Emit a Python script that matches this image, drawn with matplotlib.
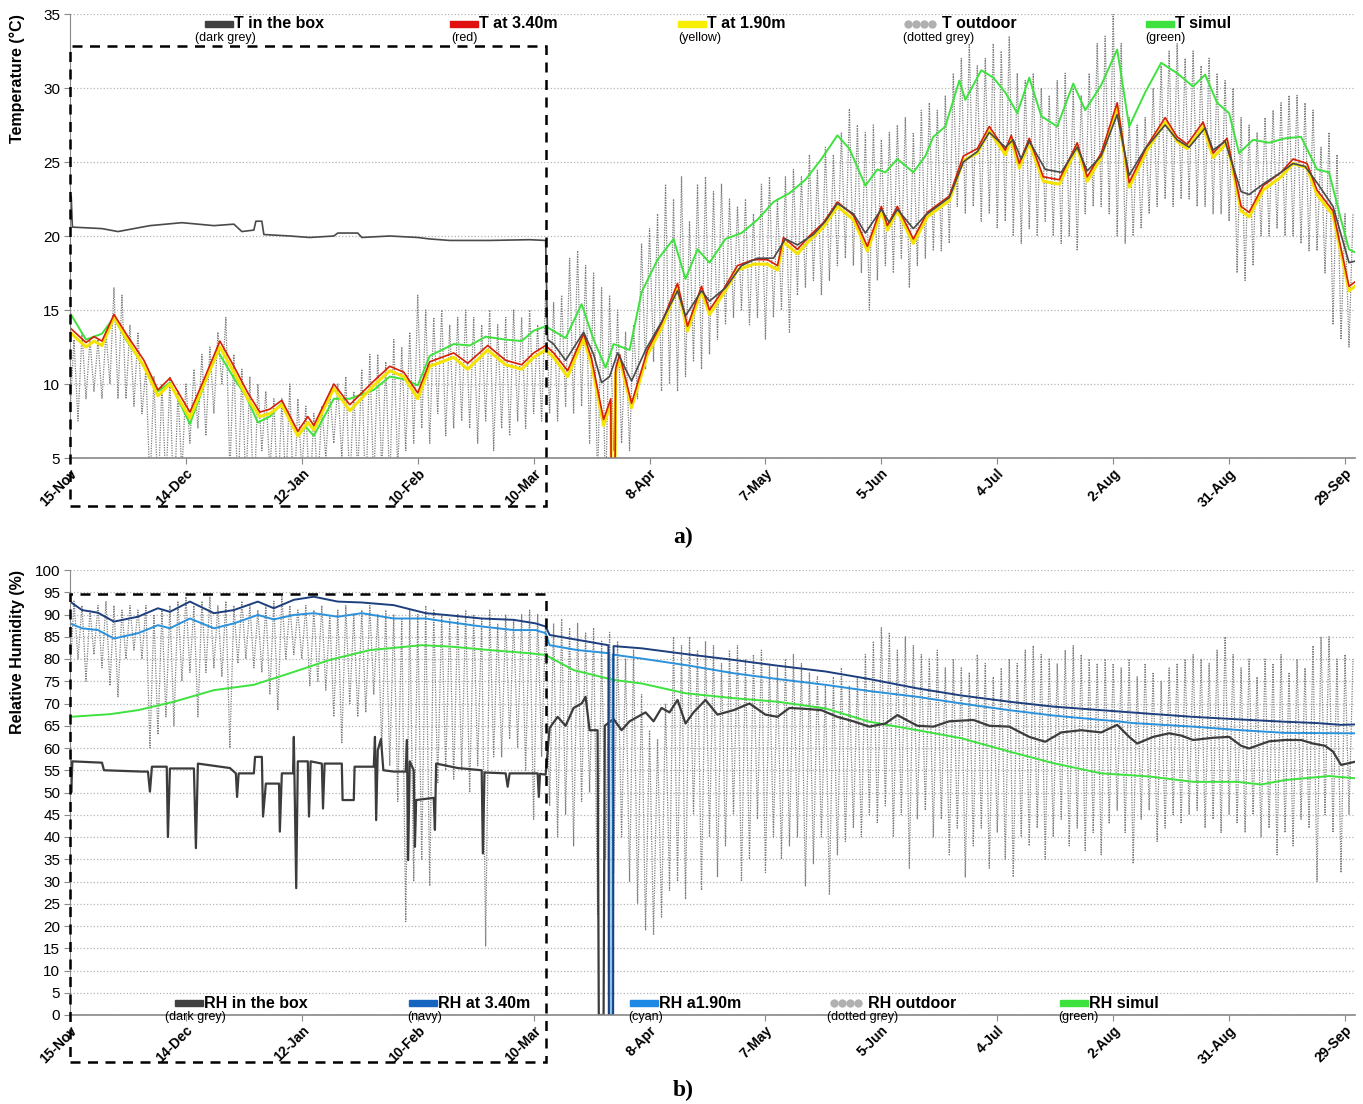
import numpy as np
import matplotlib
matplotlib.use("Agg")
import matplotlib.pyplot as plt
from matplotlib.patches import Rectangle

plt.rcParams['font.family'] = ['Liberation Sans', 'DejaVu Sans']
NARROW = ['Liberation Sans Narrow', 'Liberation Sans', 'DejaVu Sans']

# ---- time axis: day 0 = 15-Nov, ticks every 29 days ----
tick_days = [0, 29, 58, 87, 116, 145, 174, 203, 232, 261, 290, 319]
tick_labels = ["15-Nov", "14-Dec", "12-Jan", "10-Feb", "10-Mar", "8-Apr",
               "7-May", "5-Jun", "4-Jul", "2-Aug", "31-Aug", "29-Sep"]

# ---- a) temperature ----
t_red_day = [0, 4, 6, 8, 11, 14.5, 18.5, 22, 25, 30, 33.5, 37.5, 41, 44.5, 47.5, 50, 53, 57, 59.5, 61,
             66, 70, 76, 80, 83.5, 87, 90, 96, 99.5, 104.5, 109, 113, 116, 119, 121, 124.5, 128.5, 130.5,
             133.5, 135.3, 135.5, 136.3, 136.5, 137.5, 140.5, 144.5, 148, 152, 154.5, 158, 160, 163.5,
             167, 171, 174.5, 177, 178.5, 182, 185, 188.5, 192, 196, 199.5, 203, 204.5, 207, 211, 214.5,
             220, 223.5, 227, 230, 234, 235.5, 237.5, 240, 243.5, 247.5, 252, 254.5, 258, 262, 265,
             269.5, 274, 277, 279.5, 283.5, 286, 289.5, 293, 295, 298.5, 303, 306, 309.5, 312, 316,
             320, 321.5]
t_red = [13.8, 12.8, 13.2, 12.9, 14.7, 13.2, 11.6, 9.6, 10.4, 8.1, 10.3, 12.9, 11.2, 9.4, 8.1, 8.3, 8.9, 6.8, 7.8, 7.2,
         10.0, 8.6, 10.2, 11.2, 10.8, 9.4, 11.5, 12.1, 11.4, 12.6, 11.6, 11.3, 12.1, 12.6, 12.1, 10.9, 13.4, 11.7,
         7.6, 9.0, 0, 0, 11.0, 12.0, 8.7, 12.3, 14.1, 16.8, 13.9, 16.6, 15.0, 16.4,
         18.0, 18.4, 18.4, 18.0, 19.9, 19.1, 20.0, 20.9, 22.3, 21.4, 19.3, 22.0, 20.7, 22.0, 19.8, 21.6,
         22.7, 25.4, 25.9, 27.4, 25.8, 26.8, 24.9, 26.6, 24.0, 23.8, 26.3, 24.0, 25.6, 29.0, 23.6,
         26.1, 28.0, 26.7, 26.2, 27.7, 25.6, 26.6, 22.0, 21.6, 23.4, 24.3, 25.2, 24.9, 23.1, 21.7,
         16.6, 16.9]
t_yellow = [13.5, 12.5, 12.9, 12.6, 14.5, 12.9, 11.2, 9.2, 10.0, 7.7, 10.0, 12.5, 10.8, 9.0, 7.8, 8.0, 8.6, 6.5, 7.4, 6.9,
            9.7, 8.2, 9.9, 10.9, 10.5, 9.0, 11.2, 11.8, 11.0, 12.3, 11.3, 11.0, 11.8, 12.3, 11.8, 10.5, 13.1, 11.3,
            7.2, 8.7, 0, 0, 10.7, 11.7, 8.4, 12.0, 13.8, 16.5, 13.6, 16.3, 14.7, 16.1,
            17.7, 18.1, 18.1, 17.7, 19.6, 18.8, 19.7, 20.6, 22.0, 21.1, 19.0, 21.7, 20.4, 21.7, 19.5, 21.3,
            22.4, 25.1, 25.6, 27.1, 25.5, 26.5, 24.6, 26.3, 23.7, 23.5, 26.0, 23.7, 25.3, 28.7, 23.3,
            25.8, 27.7, 26.4, 25.9, 27.4, 25.3, 26.3, 21.7, 21.3, 23.1, 24.0, 24.9, 24.6, 22.8, 21.4,
            16.3, 16.6]

t_box_day = [0, 0.3, 0.6, 8, 12, 20, 28, 36, 41, 43, 46, 46.5, 48, 48.5, 55, 60, 66, 67, 72, 73, 80, 87, 90,
             95, 105, 115, 119, 119.5, 121, 124, 128.5, 131, 133, 135, 137, 140.5, 144, 148, 152, 154, 158,
             160, 164, 168, 172, 176, 179, 182, 186, 189, 192, 196, 199, 203, 205, 207, 211, 214, 220,
             223.5, 227, 230, 234, 236, 238, 240, 244, 248, 252, 254.5, 258, 262, 265, 269, 274, 277,
             280, 284, 286, 289, 293, 295, 299, 303, 306, 309, 312, 316, 320, 321.5]
t_box = [20.5, 22.7, 20.6, 20.5, 20.3, 20.7, 20.9, 20.7, 20.8, 20.3, 20.4, 21.0, 21.0, 20.1, 20.0, 19.9, 20.0, 20.2, 20.2, 19.9, 20.0, 19.9, 19.8,
         19.7, 19.7, 19.75, 19.7, 13.0, 12.7, 11.6, 13.5, 12.0, 10.1, 10.5, 12.1, 10.2, 12.3, 14.2, 16.3, 14.6, 16.3,
         15.6, 16.5, 18.0, 18.5, 18.5, 19.8, 19.4, 20.1, 21.0, 22.2, 21.5, 20.2, 21.8, 20.9, 21.8, 20.5, 21.4, 22.6,
         25.0, 25.7, 27.0, 26.0, 26.5, 25.2, 26.4, 24.5, 24.3, 26.0, 24.4, 25.4, 28.2, 24.1, 25.9, 27.5, 26.5,
         26.0, 27.3, 25.8, 26.4, 23.0, 22.8, 23.6, 24.3, 24.9, 24.7, 23.6, 22.0, 18.2, 18.3]

t_sim_day = [0, 4, 8, 11, 14, 18.5, 22, 25, 30, 33.5, 37, 41, 44, 47, 50, 53, 57, 59, 61, 66, 70, 76, 80, 84,
             87, 90, 96, 100, 104, 109, 113, 116, 119, 124, 128, 131, 134, 136, 140, 143, 147, 151, 154,
             157, 160, 164, 168, 172, 176, 180, 184, 188, 192, 195, 199, 202, 204, 207, 211, 214, 216,
             219, 222.5, 224, 228, 231, 234, 237, 240, 243, 247, 251, 254, 258, 262, 265, 269, 273, 277,
             281, 284, 287, 290, 292.5, 296, 300, 304, 308, 312, 315, 318, 320, 321.5]
t_sim = [14.8, 13.0, 13.4, 14.5, 13.0, 11.2, 9.5, 10.1, 7.3, 9.9, 12.2, 10.4, 9.2, 7.4, 7.8, 8.7, 6.5, 7.1, 6.5, 9.0, 9.0, 9.6, 10.5, 10.3,
         9.9, 11.9, 12.7, 12.6, 13.2, 13.0, 12.9, 13.6, 13.9, 13.1, 15.4, 13.0, 11.1, 12.7, 12.3, 16.2, 18.4, 19.8, 17.1,
         19.1, 18.2, 19.8, 20.2, 21.1, 22.3, 22.9, 23.8, 25.2, 26.8, 25.9, 23.4, 24.5, 24.3, 25.2, 24.3, 25.4, 26.7,
         27.4, 30.5, 29.2, 31.2, 30.7, 29.7, 28.3, 30.7, 28.1, 27.4, 30.3, 28.5, 30.2, 32.6, 27.4, 29.7, 31.7, 31.0,
         30.1, 30.9, 29.0, 28.3, 25.6, 26.5, 26.3, 26.6, 26.7, 24.5, 24.3, 21.1, 19.1, 18.9]

# outdoor temperature, daily extremes read every 2 days
out_day = np.arange(0, 321, 2)
t_out_high = [13, 13.5, 13, 13, 13.5, 16.5, 16, 14, 13.5, 11,
              10.5, 10, 10.5, 9.5, 10, 11, 12, 12.5, 13.5, 14.5,
              12, 11, 10.5, 10, 9.5, 9, 9, 10, 9, 8.5,
              8, 8.5, 9.5, 10, 10.5, 9.5, 11, 12, 12, 11.5,
              13, 12.5, 13.5, 16, 15, 14.5, 15, 14, 14.5, 15,
              14.5, 14, 15, 14, 14.5, 15, 14.5, 15, 14, 16.3,
              15.5, 16, 18.5, 19, 18, 17.5, 16.5, 16, 15, 13.5,
              14, 19.5, 20.5, 21.5, 23.5, 22.5, 24, 21, 23.5, 24,
              23, 23.5, 22.5, 22, 22.5, 21.5, 23.5, 24, 22.5, 24,
              24.5, 24, 25.5, 24.5, 26, 25.5, 27, 28.6, 27.5, 27,
              27.5, 26.5, 27, 27.5, 28, 27, 28.5, 29, 28.5, 29.5,
              31, 32, 33, 31.5, 32, 33, 32.5, 33.5, 31, 30.5,
              31, 30, 29.5, 30.5, 31, 30, 29.5, 31, 33, 33.5,
              35, 33, 28, 27.5, 28, 30, 31.5, 32.5, 33, 32,
              32.5, 31.5, 32, 31, 30.5, 30, 28, 27.5, 27, 28,
              28.5, 29, 29.5, 29.5, 29, 28.5, 26, 27, 25.5, 21.5,
              21.5]
t_out_low = [8, 7.5, 9, 9.5, 9, 10, 9, 9, 8.5, 8,
             3, 2, 3, 1, 4, 6, 7, 6.5, 8, 10,
             4, 2, 3, 1, 5.5, 4, 2, 3, 1, 4,
             2, 3, 5, 6, 5, 3, 4, 2, 3, 4,
             3, 4, 5.5, 6, 7, 6, 8, 6.5, 7, 7.5,
             7, 6, 7.5, 5.5, 7, 6.5, 7.5, 7, 8, 7.5,
             8, 7.5, 8.5, 8, 8.5, 6, 3, 2, 5.5, 6,
             5.5, 9, 11, 11.5, 9.5, 10, 9.5, 10.5, 11.5, 11,
             12, 13, 14, 14.5, 15, 14, 14.5, 13, 14.5, 15,
             13.5, 16, 16.5, 17, 16, 17, 18, 18.5, 18, 17.5,
             15, 17, 18, 17.5, 18.5, 16.5, 18, 18.5, 19, 19,
             19.5, 22, 21.5, 22, 21, 21.5, 20.5, 21, 20, 19.5,
             20.5, 20, 21, 20, 19.5, 20, 19, 21.5, 22, 22,
             21.5, 20, 19.5, 20, 20.5, 21.5, 22, 22.5, 22, 22.5,
             22.5, 22, 22, 21.5, 21.5, 21, 17.5, 17, 18, 20,
             20, 20.5, 20, 20, 19.5, 19, 19, 17.5, 14, 13,
             12.5]

# ---- b) relative humidity ----
rh_navy_day = [0, 3, 7, 11, 17, 22, 25, 30, 36, 41, 47, 51, 56, 61, 67, 73, 81, 89, 94, 103, 111, 116.5,
               119, 120, 127, 134.7, 134.8, 135.9, 136, 143, 155, 166, 177, 189, 200, 212, 223, 235, 246,
               258, 270, 281, 293, 304, 312, 318, 321.5]
rh_navy = [92.9, 91.0, 90.4, 88.4, 89.5, 91.4, 90.6, 92.9, 90.3, 91.0, 92.9, 91.4, 93.3, 94.0, 92.9, 92.7, 92.1, 90.3, 89.9, 89.1, 88.8, 88.0,
           87.3, 85.4, 84.3, 83.1, 0, 0, 82.9, 82.4, 81.0, 79.8, 78.5, 77.2, 75.5, 73.4, 71.8, 70.4, 69.3,
           68.5, 67.7, 67.0, 66.4, 65.9, 65.6, 65.2, 65.3]
rh_cyan_day = [0, 3, 7, 11, 17, 22, 25, 30, 36, 41, 47, 51, 56, 61, 67, 73, 81, 89, 94, 103, 111, 116.5,
               119, 120, 127, 134.9, 135.0, 135.7, 135.8, 143, 155, 166, 177, 189, 200, 212, 223, 235,
               246, 258, 262, 266, 281, 293, 304, 321.5]
rh_cyan = [88.0, 86.9, 86.5, 84.6, 85.8, 87.6, 86.9, 89.1, 86.9, 88.0, 89.9, 88.9, 89.9, 90.3, 89.5, 90.3, 89.1, 89.1, 88.4, 87.3, 86.5, 86.5,
           85.8, 83.1, 82.0, 81.3, 0, 0, 81.0, 80.1, 78.5, 76.8, 75.5, 74.2, 72.8, 71.5, 70.0, 68.5,
           67.3, 66.3, 66.0, 65.6, 64.8, 64.0, 63.4, 63.3]
rh_sim_day = [0, 10, 17, 26, 36, 46, 55, 65, 75, 88, 95, 105, 115, 119, 126, 136, 143, 154, 166, 177, 189,
              200, 212, 223, 235, 246, 258, 270, 281, 292, 298, 304, 315, 321.5]
rh_sim = [67.0, 67.6, 68.5, 70.4, 73.0, 74.2, 76.8, 79.8, 82.0, 83.1, 82.8, 82.0, 81.3, 80.9, 77.5, 75.3, 74.5, 72.3, 71.2, 70.4, 68.9,
          65.9, 64.0, 62.2, 59.2, 56.6, 54.3, 53.6, 52.4, 52.4, 51.8, 52.8, 53.7, 53.2]
rh_box_day = [0, 0.3, 0.6, 8, 8.5, 18, 19.5, 20, 20.5, 24.2, 24.5, 25, 31, 31.5, 32, 40, 41.5, 41.8, 42.2, 46,
              46.3, 48, 48.3, 49, 52.3, 52.5, 53, 55.8, 56, 56.6, 57, 59.5, 59.8, 60.2, 63, 63.3, 63.7, 68,
              68.2, 71, 71.2, 76, 76.3, 76.6, 77, 77.8, 78.4, 81, 84, 84.3, 84.6, 85, 86, 86.3, 86.6, 91,
              91.3, 91.6, 97, 103, 103.3, 103.7, 109, 109.5, 110, 117, 117.3, 117.6, 119, 120, 122, 124,
              126, 128, 129, 130, 132, 132.3, 133.5, 133.8, 136, 138, 140, 142, 144, 146, 148, 150, 152,
              154, 156, 159, 162, 166, 170, 174, 177, 180, 184, 188, 192, 196, 200, 204, 207, 212, 216,
              220, 226, 230, 235, 240, 244, 248, 253, 258, 262, 265, 267, 271, 275, 278, 281, 286, 290,
              293, 295, 300, 304, 308, 311, 314, 316, 318, 321.5]
rh_box = [60, 50, 57, 56.7, 55, 54.7, 54.7, 50.2, 55.8, 55.8, 40, 55.4, 55.4, 37.5, 56.5, 55.5, 54.3, 49, 54.3, 54.3,
          58, 58, 44.6, 52, 52, 41.2, 54.3, 54.3, 62.5, 28.5, 57, 57, 44.6, 57, 56.5, 46.4, 56.5, 56.5,
          48.3, 48.3, 55.8, 55.8, 62.5, 43.8, 59.5, 62, 55, 54.7, 54.7, 61.8, 34.8, 57, 55, 37.8, 48.3, 48.8,
          41.6, 56.5, 55.5, 55, 36.3, 54.5, 54.3, 51.3, 54.3, 54.3, 49, 54.2, 54, 64.5, 67, 65,
          69, 70, 71.5, 64, 64, 0, 0, 65, 66.5, 64, 66, 67, 68, 66, 69, 68, 70.8,
          65.5, 68, 70.8, 67.5, 68.5, 70, 67.5, 67, 69, 68.8, 68.5, 67, 66, 64.8, 65.5, 67.4, 65, 64.8,
          66, 66.3, 65, 64.8, 62.5, 61.4, 63.5, 64, 63.5, 65.2, 62.5, 61, 62.5, 63.3, 62.8, 61.8, 62.3, 62.5,
          60.5, 59.9, 61.5, 61.8, 61.8, 61, 60.5, 59.2, 56.2, 56.9]

rh_out_high = [93, 92, 91, 92, 93, 92, 91, 92, 91, 92,
               90, 91, 92, 93, 94, 92, 93, 94, 92, 93,
               92, 93, 92, 91, 92, 93, 94, 92, 91, 92,
               91, 92, 90, 91, 92, 90, 91, 92, 90, 91,
               90, 89, 91, 90, 92, 91, 90, 89, 90, 91,
               90, 89, 91, 88, 90, 89, 90, 91, 90, 89,
               88, 89, 87, 88, 86, 87, 84, 86, 84, 80,
               82, 72, 64, 62, 70, 85, 83, 85, 82, 84,
               83, 79, 82, 83, 80, 81, 82, 79, 78, 80,
               81, 79, 77, 76, 74, 76, 78, 74, 76, 81,
               84, 87, 86, 82, 85, 83, 81, 80, 82, 78,
               80, 78, 77, 81, 79, 76, 78, 80, 79, 82,
               83, 81, 80, 79, 82, 83, 81, 80, 79, 80,
               79, 78, 80, 76, 79, 77, 75, 78, 79, 80,
               81, 80, 79, 82, 85, 81, 78, 80, 76, 80,
               79, 81, 77, 80, 78, 83, 85, 85, 80, 81,
               80]
rh_out_low = [76, 80, 75, 81, 78, 74, 71.5, 80, 82, 80,
              60, 63, 67, 65, 75, 77, 67, 77, 78, 76,
              60, 79, 80, 78, 77, 72, 68.5, 80, 81, 80,
              74, 75, 73, 67, 61, 70, 67, 68, 72, 60,
              56, 48, 21, 30, 35, 29, 52, 55, 53, 55,
              50, 56, 15.5, 58, 58, 62, 60, 55, 44, 58,
              47, 40, 45, 38, 48, 50, 22.5, 35, 32, 40,
              30, 25, 19, 18, 22, 28, 30, 26, 45, 28,
              40, 31, 38, 45, 30, 35, 44, 32, 40, 35,
              38, 40, 29, 34, 40, 27, 36, 39, 42, 40,
              45, 43, 47, 40, 45, 33, 44, 46, 40, 44,
              36, 42, 31, 38, 42, 33, 41, 35, 31, 40,
              38, 42, 35, 40, 44, 38, 42, 37, 41, 36,
              43, 46, 41, 34, 44, 46, 39, 42, 45, 43,
              45, 46, 42, 44, 41, 45, 43, 41, 45, 40,
              42, 36, 41, 38, 44, 42, 30, 45, 41, 32,
              45]


def zigzag(days, lows, highs):
    xs = np.empty(2 * len(days))
    ys = np.empty(2 * len(days))
    xs[0::2] = days
    xs[1::2] = np.asarray(days) + 1
    ys[0::2] = lows
    ys[1::2] = highs
    return xs, ys


W, H = 1363, 1104
fig = plt.figure(figsize=(W / 100, H / 100), dpi=100)
ax1 = fig.add_axes([70 / W, 1 - 458 / H, 1285 / W, 444 / H])
ax2 = fig.add_axes([70 / W, 1 - 1015 / H, 1285 / W, 445 / H])

GREY_DOT = '#7d7d7d'
for ax in (ax1, ax2):
    ax.set_xlim(0, 321.5)
    ax.set_xticks(tick_days)
    ax.set_xticklabels(tick_labels, rotation=45, ha='right', va='top', rotation_mode='anchor',
                       fontsize=10, fontweight='bold', family=NARROW)
    ax.tick_params(axis='x', length=4, color='#888888', pad=2)
    ax.tick_params(axis='y', length=4, color='#888888', labelsize=11, pad=3)
    ax.grid(axis='y', color='#b5b5b5', linestyle=':', linewidth=0.9)
    ax.set_axisbelow(True)
    for s in ('top', 'right'):
        ax.spines[s].set_visible(False)
    ax.spines['left'].set_color('#888888')
    ax.spines['bottom'].set_color('#888888')
    ax.spines['bottom'].set_linewidth(1.2)

# a) temperature
xo, yo = zigzag(out_day, t_out_low, t_out_high)
ax1.plot(xo, yo, color=GREY_DOT, lw=0.9, ls=(0, (1, 1)))
ax1.plot(t_sim_day, t_sim, color='#3ee23e', lw=1.4)
ax1.plot(t_red_day, t_yellow, color='#f5e400', lw=2.2)
ax1.plot(t_red_day, t_red, color='#d81e05', lw=1.2)
ax1.plot(t_box_day, t_box, color='#4a4a4a', lw=1.2)
ax1.set_ylim(5, 35)
ax1.set_yticks(range(5, 36, 5))
ax1.set_ylabel('Temperature (°C)', loc='top', fontsize=11.5, fontweight='bold')
ax1.yaxis.set_label_coords(-0.035, 1.0)

# b) relative humidity
xo, yo = zigzag(out_day, rh_out_low, rh_out_high)
ax2.plot(xo, yo, color=GREY_DOT, lw=0.9, ls=(0, (1, 1)))
ax2.plot(rh_sim_day, rh_sim, color='#3ee23e', lw=1.4)
ax2.plot(rh_box_day, rh_box, color='#3c3c3c', lw=1.6)
ax2.plot(rh_cyan_day, rh_cyan, color='#2a92dc', lw=1.4)
ax2.plot(rh_navy_day, rh_navy, color='#1d3f7e', lw=1.4)
ax2.set_ylim(0, 100)
ax2.set_yticks(range(0, 101, 5))
ax2.set_ylabel('Relative Humidity (%)', loc='top', fontsize=11.5, fontweight='bold')
ax2.yaxis.set_label_coords(-0.035, 1.0)

# dashed boxes around the heating period
box_end = 119
ax1.add_patch(Rectangle((0, -0.108), box_end, 1.036, transform=ax1.get_xaxis_transform(),
                        fill=False, ls=(0, (4, 3)), lw=1.8, ec='black', clip_on=False, zorder=5))
ax2.add_patch(Rectangle((0, -0.106), box_end, 1.052, transform=ax2.get_xaxis_transform(),
                        fill=False, ls=(0, (4, 3)), lw=1.8, ec='black', clip_on=False, zorder=5))


def legend_item(x, y, color, label, sub, sub_x, dotted=False):
    fx, fy = x / W, 1 - y / H
    if dotted:
        fig.lines.append(plt.Line2D([fx + i * 8 / W for i in range(4)], [fy] * 4, transform=fig.transFigure,
                                    marker='o', ms=5, ls='none', color='#b0b0b0'))
        tx = x + 34
    else:
        fig.patches.append(Rectangle((fx, fy - 3 / H), 28 / W, 6 / H, transform=fig.transFigure,
                                     color=color))
        tx = x + 29
    fig.text(tx / W, fy, label, fontsize=11.5, fontweight='bold', va='center', ha='left',
             family=NARROW)
    fig.text(sub_x / W, 1 - (y + 14) / H, sub, fontsize=9, va='center', ha='left', family=NARROW)


legend_item(205, 24, '#404040', 'T in the box', '(dark grey)', 195)
legend_item(450, 24, '#e01010', 'T at 3.40m', '(red)', 451)
legend_item(678, 24, '#f8ee00', 'T at 1.90m', '(yellow)', 678)
legend_item(908, 24, None, 'T outdoor', '(dotted grey)', 903, dotted=True)
legend_item(1146, 24, '#3ee23e', 'T simul', '(green)', 1145)

legend_item(175, 1003, '#404040', 'RH in the box', '(dark grey)', 165)
legend_item(409, 1003, '#1565c0', 'RH at 3.40m', '(navy)', 407)
legend_item(630, 1003, '#1e88e5', 'RH a1.90m', '(cyan)', 628)
legend_item(834, 1003, None, 'RH outdoor', '(dotted grey)', 827, dotted=True)
legend_item(1060, 1003, '#3ee23e', 'RH simul', '(green)', 1058)

fig.text(683 / W, 1 - 537 / H, 'a)', fontsize=17, fontweight='bold', ha='center', va='center',
         family=['Liberation Serif', 'DejaVu Serif'])
fig.text(683 / W, 1 - 1090 / H, 'b)', fontsize=17, fontweight='bold', ha='center', va='center',
         family=['Liberation Serif', 'DejaVu Serif'])

fig.savefig('out.png', dpi=100, facecolor='white')
